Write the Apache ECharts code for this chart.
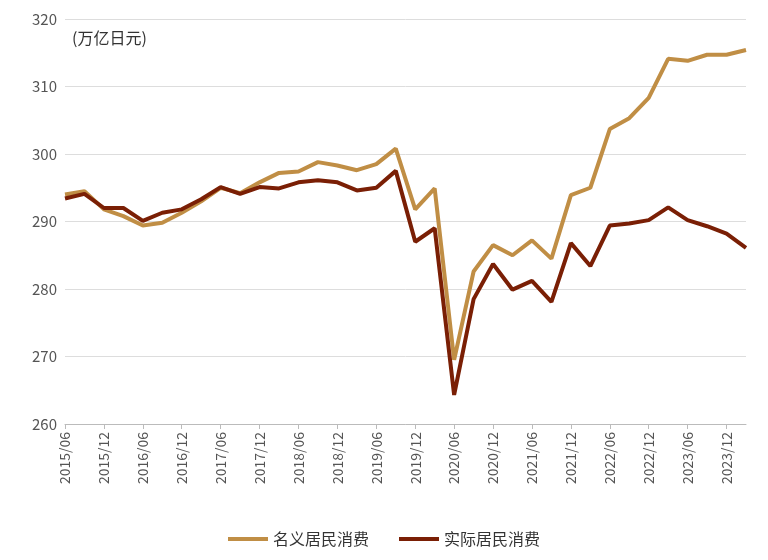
<!DOCTYPE html>
<html><head><meta charset="utf-8">
<script src="https://cdn.jsdelivr.net/npm/echarts@6/dist/echarts.min.js"></script>
<style>body{margin:0}#c{width:768px;height:560px}</style></head>
<body><div id="c"></div>
<script>
// 季度：2015/06 - 2024/03
const quarters = [];
for (let y = 2015; y <= 2024; y++) {
    ['03', '06', '09', '12'].forEach(m => {
        const k = y + '/' + m;
        if (k >= '2015/06' && k <= '2024/03') quarters.push(k);
    });
}
const nominal = [294, 294.5, 291.8, 290.8, 289.4, 289.8, 291.3, 293, 295, 294.2, 295.8, 297.2, 297.4, 298.8, 298.3, 297.6, 298.5, 300.8,
    291.8, 294.9, 269.5, 282.6, 286.5, 285, 287.2, 284.5, 293.9, 295, 303.7, 305.3, 308.3, 314.1, 313.8, 314.7, 314.7, 315.4];
const real = [293.4, 294.1, 292, 292, 290.1, 291.3, 291.8, 293.3, 295.1, 294.1, 295.1, 294.9, 295.8, 296.1, 295.8, 294.6, 295, 297.5,
    287, 289, 264.3, 278.5, 283.7, 279.9, 281.2, 278.1, 286.8, 283.4, 289.4, 289.7, 290.2, 292.1, 290.2, 289.3, 288.2, 286.1];

const font = '"Noto Sans CJK SC", sans-serif';
const chart = echarts.init(document.getElementById('c'));
chart.setOption({
    textStyle: { fontFamily: font },
    grid: { left: 65, right: 22, top: 19, bottom: 136 },
    legend: {
        bottom: 8, itemWidth: 40, itemHeight: 4, itemGap: 30,
        icon: 'rect',
        textStyle: { fontSize: 16, color: '#333', fontFamily: font },
        data: ['名义居民消费', '实际居民消费']
    },
    graphic: [{ type: 'text', left: 72, top: 30, style: { text: '(万亿日元)', fontSize: 16, fill: '#333', fontFamily: font } }],
    xAxis: {
        type: 'category', data: quarters, boundaryGap: false,
        axisLine: { lineStyle: { color: '#bbb' } },
        axisTick: { show: true, interval: 1, alignWithLabel: true, lineStyle: { color: '#bbb' } },
        axisLabel: { interval: 1, rotate: 90, fontSize: 14, color: '#555' }
    },
    yAxis: {
        type: 'value', min: 260, max: 320, interval: 10,
        axisLabel: { fontSize: 15, color: '#555' },
        splitLine: { lineStyle: { color: '#ddd' } }
    },
    series: [
        { name: '名义居民消费', type: 'line', data: nominal, symbol: 'none', lineStyle: { width: 4, color: '#C08E45' }, itemStyle: { color: '#C08E45' } },
        { name: '实际居民消费', type: 'line', data: real, symbol: 'none', lineStyle: { width: 4, color: '#7A1F05' }, itemStyle: { color: '#7A1F05' } }
    ]
});
</script></body></html>
